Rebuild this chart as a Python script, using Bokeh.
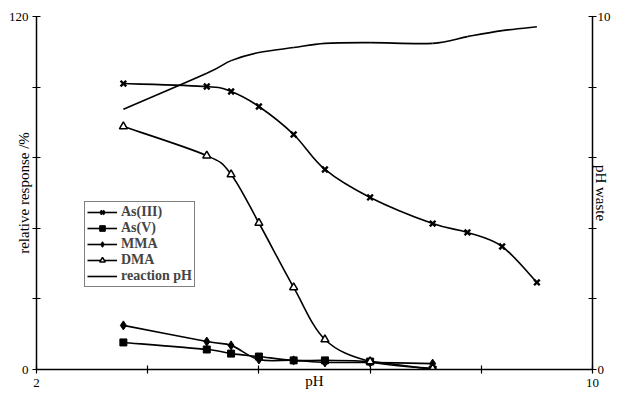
from bokeh.plotting import figure
from bokeh.models import (Range1d, LinearAxis, FixedTicker, Legend, LegendItem,
                          ColumnDataSource)
from bokeh.embed import file_html
from bokeh.resources import INLINE

# ---- data ----
ph = [3.25, 4.45, 4.8, 5.2, 5.7, 6.15, 6.8, 7.7, 8.2, 8.7, 9.2]
as3 = [97.2, 96.2, 94.5, 89.4, 79.9, 68.0, 58.5, 49.6, 46.6, 41.8, 29.6]
ph_short = [3.25, 4.45, 4.8, 5.2, 5.7, 6.15, 6.8, 7.7]
as5 = [9.2, 6.8, 5.4, 4.4, 3.1, 3.1, 2.7, 0.0]
mma = [15.0, 9.5, 8.2, 3.4, 3.1, 2.4, 2.4, 2.0]
dma = [82.6, 72.7, 66.3, 49.8, 27.9, 10.2, 2.7, 0.3]
reaction_ph = [7.37, 8.39, 8.75, 8.98, 9.12, 9.24, 9.26, 9.24, 9.43, 9.6, 9.71]

x_ticks = [2, 3.6, 5.2, 6.8, 8.4, 10]
x_tick_labels = {3.6: "", 5.2: "", 6.8: "", 8.4: ""}
y_ticks = [0, 24, 48, 72, 96, 120]
y_tick_labels = {24: "", 48: "", 72: "", 96: ""}
y2_ticks = [0, 2, 4, 6, 8, 10]
y2_tick_labels = {2: "", 4: "", 6: "", 8: ""}

FONT = "Liberation Serif"


def smooth(xs, ys):
    """Catmull-Rom style Bezier segments through the data points."""
    n = len(xs)
    out = dict(x0=[], y0=[], x1=[], y1=[], cx0=[], cy0=[], cx1=[], cy1=[])
    for i in range(n - 1):
        xm = xs[i - 1] if i > 0 else xs[i]
        ym = ys[i - 1] if i > 0 else ys[i]
        xp = xs[i + 2] if i + 2 < n else xs[i + 1]
        yp = ys[i + 2] if i + 2 < n else ys[i + 1]
        out["x0"].append(xs[i]); out["y0"].append(ys[i])
        out["x1"].append(xs[i + 1]); out["y1"].append(ys[i + 1])
        out["cx0"].append(xs[i] + (xs[i + 1] - xm) / 6.0)
        out["cy0"].append(ys[i] + (ys[i + 1] - ym) / 6.0)
        out["cx1"].append(xs[i + 1] - (xp - xs[i]) / 6.0)
        out["cy1"].append(ys[i + 1] - (yp - ys[i]) / 6.0)
    return ColumnDataSource(out)


p = figure(frame_width=556, frame_height=353, x_range=Range1d(2, 10), y_range=Range1d(0, 120),
           output_backend="svg", toolbar_location=None,
           min_border_left=36, min_border_right=18, min_border_top=16, min_border_bottom=22)
p.extra_y_ranges = {"ph": Range1d(0, 10)}
p.outline_line_color = None
p.grid.visible = False
p.background_fill_color = "white"

LW = 1.6
bz = dict(x0="x0", y0="y0", x1="x1", y1="y1", cx0="cx0", cy0="cy0", cx1="cx1", cy1="cy1",
          line_color="black", line_width=LW)

b_rph = p.bezier(source=smooth(ph, reaction_ph), y_range_name="ph", **bz)
b_as3 = p.bezier(source=smooth(ph, as3), **bz)
b_dma = p.bezier(source=smooth(ph_short, dma), **bz)
b_mma = p.bezier(source=smooth(ph_short, mma), **bz)
b_as5 = p.bezier(source=smooth(ph_short, as5), **bz)

r_as3 = p.scatter(ph, as3, marker="x", size=8, line_color="black", line_width=2.4)
r_as5 = p.scatter(ph_short, as5, marker="square", size=7, fill_color="black", line_color="black")
r_mma = p.scatter(ph_short, mma, marker="diamond", size=9, fill_color="black", line_color="black")
r_dma = p.scatter(ph_short, dma, marker="triangle", size=8, fill_color="white",
                  line_color="black", line_width=1.5)

legend = Legend(items=[
    LegendItem(label="As(III)", renderers=[b_as3, r_as3]),
    LegendItem(label="As(V)", renderers=[b_as5, r_as5]),
    LegendItem(label="MMA", renderers=[b_mma, r_mma]),
    LegendItem(label="DMA", renderers=[b_dma, r_dma]),
    LegendItem(label="reaction pH", renderers=[b_rph]),
], location=(48, 82))
legend.label_text_font = FONT
legend.label_text_font_style = "bold"
legend.label_text_font_size = "14px"
legend.label_height = 14
legend.glyph_height = 14
legend.glyph_width = 30
legend.spacing = 0
legend.padding = 2
legend.margin = 0
legend.label_standoff = 4
legend.border_line_color = "black"
legend.border_line_width = 1
legend.background_fill_alpha = 1
p.add_layout(legend, "center")

# axes styling
def style_axis(ax, ticks, overrides):
    ax.ticker = FixedTicker(ticks=ticks)
    ax.major_label_overrides = overrides
    ax.minor_tick_line_color = None
    ax.major_tick_in = 4
    ax.major_tick_out = 4
    ax.axis_line_color = "black"
    ax.axis_line_width = 1.5
    ax.major_tick_line_width = 1.2
    ax.major_label_text_font = FONT
    ax.major_label_text_font_size = "13px"
    ax.major_label_text_color = "black"
    ax.axis_label_text_font = FONT
    ax.axis_label_text_font_style = "normal"
    ax.axis_label_text_font_size = "15px"
    ax.axis_label_text_color = "black"

xa = p.xaxis[0]
style_axis(xa, x_ticks, x_tick_labels)
xa.axis_label = "pH"
xa.major_label_standoff = 5
xa.axis_label_standoff = -17

ya = p.yaxis[0]
style_axis(ya, y_ticks, y_tick_labels)
ya.axis_label = "relative response /%"
ya.major_label_standoff = 4
ya.axis_label_standoff = -26

y2 = LinearAxis(y_range_name="ph")
style_axis(y2, y2_ticks, y2_tick_labels)
y2.axis_label = "pH waste"
y2.major_label_standoff = 1
y2.axis_label_standoff = -21
p.add_layout(y2, "right")

open("out.html", "w").write(file_html(p, INLINE))
